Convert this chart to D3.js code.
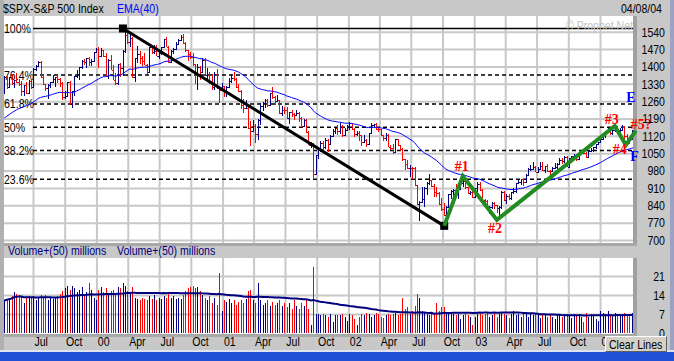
<!DOCTYPE html>
<html><head><meta charset="utf-8">
<script src="https://cdn.jsdelivr.net/npm/d3@7"></script>
<style>
html,body{margin:0;padding:0;background:#c8c8c8;overflow:hidden;}
svg{display:block;}
</style></head><body>
<svg id="c" width="674" height="361"></svg>
<script>
// ---------------- DATA ----------------
const firstWeek = "1999-04-09", lastWeek = "2004-04-09";
const firstOpen = 1293;
const closes = [
 1357,1319,1357,1335,1346,1337,1330,1302,1327,1293,1343,1315,1391,1403,1418,1356,1328,1313,1327,1336,1348,1357,1351,1335,1277,1282,1336,1247,1301,1362,1370,1397,1422,1416,1433,1417,1421,1458,1469,
 1441,1465,1441,1360,1424,1387,1346,1333,1409,1395,1464,1527,1499,1516,1357,1434,1452,1433,1421,1407,1378,1477,1457,1464,1441,1455,1478,1509,1480,1419,1462,1471,1491,1507,1520,1494,1465,1449,1436,1408,1374,1396,1379,1427,1365,1367,1341,1315,1369,1312,1305,1320,
 1298,1318,1342,1354,1349,1315,1302,1246,1234,1234,1150,1139,1160,1128,1183,1242,1253,1266,1245,1291,1277,1260,1264,1214,1225,1224,1190,1215,1210,1205,1214,1191,1161,1185,1134,1085,1092,966,1041,1071,1092,1074,1105,1087,1120,1139,1150,1139,1158,1124,1144,1161,
 1172,1146,1128,1133,1122,1096,1104,1089,1131,1164,1166,1148,1147,1122,1111,1125,1076,1073,1054,1106,1083,1067,1027,1007,990,990,989,921,847,852,865,908,928,940,916,893,889,846,827,800,835,884,897,900,894,910,930,936,912,889,895,875,
 909,927,901,861,856,829,834,851,841,829,833,895,863,878,868,893,898,930,933,945,933,964,987,988,995,976,985,998,981,998,980,977,990,993,1008,1021,1018,1036,996,1029,1038,1039,1028,1050,1053,1050,1035,1058,1061,1074,1088,1095,
 1108,1122,1139,1141,1131,1142,1146,1144,1145,1156,1120,1110,1109,1141,1139];
const highs = [
 1362,1362,1358,1368,1347,1375,1350,1340,1327,1336,1345,1350,1392,1404,1421,1420,1367,1330,1328,1337,1365,1358,1360,1355,1338,1300,1337,1340,1302,1363,1387,1397,1425,1428,1435,1438,1430,1459,1474,
 1478,1473,1467,1455,1430,1445,1407,1375,1410,1415,1467,1553,1535,1527,1520,1435,1482,1463,1440,1455,1410,1478,1480,1488,1488,1463,1479,1510,1517,1483,1466,1475,1499,1512,1525,1530,1497,1466,1460,1454,1410,1408,1402,1432,1434,1395,1376,1370,1376,1390,1316,1335,
 1321,1320,1355,1370,1376,1355,1330,1304,1268,1264,1241,1181,1183,1169,1186,1253,1255,1268,1270,1292,1316,1280,1286,1266,1240,1238,1237,1218,1225,1212,1226,1215,1196,1186,1186,1138,1096,1092,1041,1075,1100,1100,1110,1106,1124,1148,1152,1163,1173,1162,1150,1165,
 1176,1173,1150,1140,1139,1124,1122,1108,1132,1173,1168,1170,1153,1149,1124,1130,1126,1085,1089,1107,1107,1085,1070,1028,1022,1004,993,994,923,856,912,913,935,965,942,925,912,893,870,851,836,886,900,905,925,911,937,943,954,913,898,896,
 911,932,935,906,864,863,838,852,853,842,837,896,896,885,887,894,911,931,942,947,947,965,989,1002,1015,1000,994,1015,1015,1000,1006,983,993,1011,1010,1030,1032,1040,1039,1030,1040,1048,1043,1054,1061,1063,1053,1059,1071,1075,1089,1096,
 1112,1131,1140,1150,1155,1143,1159,1158,1152,1163,1159,1126,1115,1145,1151];
const lows = [
 1290,1307,1312,1326,1312,1333,1320,1281,1281,1290,1291,1310,1315,1383,1398,1355,1325,1300,1268,1312,1333,1318,1332,1315,1263,1268,1280,1245,1233,1280,1354,1347,1390,1405,1395,1400,1400,1416,1454,
 1392,1438,1438,1356,1350,1386,1345,1325,1325,1356,1360,1453,1490,1480,1355,1339,1415,1410,1400,1404,1370,1375,1450,1450,1440,1430,1447,1475,1478,1415,1416,1450,1465,1490,1502,1490,1460,1420,1430,1400,1330,1305,1345,1378,1362,1346,1330,1306,1305,1310,1254,1300,
 1275,1275,1312,1335,1340,1312,1298,1228,1214,1228,1148,1081,1135,1091,1104,1165,1221,1232,1235,1241,1270,1245,1256,1209,1200,1210,1188,1168,1194,1182,1201,1175,1158,1155,1130,1084,1073,944,962,1026,1055,1064,1067,1054,1084,1115,1128,1125,1126,1114,1122,1140,
 1145,1145,1115,1118,1100,1081,1092,1074,1086,1130,1150,1145,1135,1121,1099,1101,1075,1064,1048,1053,1080,1060,1020,981,985,953,947,917,840,776,848,833,880,920,912,872,875,843,817,798,768,830,865,872,882,866,900,915,905,885,880,870,
 869,895,898,860,838,825,806,823,826,807,789,827,858,847,860,863,887,888,924,923,918,931,960,979,987,974,974,985,978,971,974,960,973,988,985,1006,1007,1010,995,990,1026,1030,1018,1027,1046,1046,1031,1034,1056,1056,1068,1086,
 1095,1107,1113,1134,1122,1123,1137,1139,1136,1140,1106,1101,1087,1106,1133];
const volumes = [
 12,12.5,13,13.5,15,14.5,14,13.5,11,13,13.5,13, 13.5,12,13,14,13, 14,12,13,12.5, 13,13.5,14.5,15.5, 16.5,17.5,16,17.5,16.5, 15,16,17,14, 15,18.5,16,13,12,
 16,17,15,16.5, 14.5,15.5,16,14, 17,16.5,18.5,17.5,15.5, 15,17,13,12.5, 12,13,12.5,12, 13.5,12.5,14,12,13, 12.5,13.5,13,14.5, 13,13.5,12.5,13, 12.5,14,15.5,16.5,17, 17.5,16.5,17,15.5, 14,13,12,13.5, 11,13,10.5,22,8,
 12,11.5,12.5,11, 12,10.5,11.5,12, 11,12.5,15.5,16,12, 11,18.5,12,10.5, 11,12,10,11.5, 10.5,11,12,10,11, 9.5,11,9,12, 10,9,11,10,12, 9,3,24.5,7, 7,6.5,7,6.5, 6,7,4,6.5,6.5, 6.5,7,6,4.5,
 7,6.5,5,3, 6,7,6.5,7.5, 7,6,6.5,7.5,7, 6,5.5,6.5,7, 6.5,7,7.5,6.5,7, 13,9,9.5,7, 8,10,14.5,13, 8,7.5,7,6.5,7, 7,11,8,9.5, 9.5,7.5,7,7.5, 7,6.5,7,5,6.5, 7,6.5,6,3,
 6,7,7,6.5,7, 7.5,6,6.5,7, 6,7,7.5,7, 6.5,5.5,7,8, 6.5,7,6,7,7.5, 6,7,6.5,7, 7.5,5.5,6.5,7, 6,7,6,5,6.5, 7,6,7,7, 6.5,5.5,7,6.5,7, 6,4,7.5,6, 7,6.5,5,4.5,
 8,7.5,7,8,7,6.5,7.5,7,6.5,7,7.5,7,7,7.5,5.5];
const emaPeriod = 40, emaSeed = 1184;
const volMaPeriod = 50;
const priceTicks = [700,770,840,910,980,1050,1120,1190,1260,1330,1400,1470,1540];
const volTicks = [0,7,14,21];
const tickLabels = ["Jul","Oct","00","Apr","Jul","Oct","01","Apr","Jul","Oct","02","Apr","Jul","Oct","03","Apr","Jul","Oct","04"];
const fibPcts = [1,0.764,0.618,0.5,0.382,0.236];
const fibLabels = ["100%","76.4%","61.8%","50%","38.2%","23.6%"];
const fibHigh = 1553, fibLow = 757;
const trendPts = [["2000-03-18",1553],["2002-10-06",757]];
const wavePts = [["2002-10-06",757],["2002-11-29",958],["2003-03-08",781],["2004-02-13",1160],["2004-03-16",1083],["2004-04-14",1141]];
const waveLabels = ["#1","#2","#3","#4","#5?"];
const channelLabels = [["E","2004-03-17",1256],["F","2004-03-29",1018]];

// ---------------- CHART ----------------
const FONT = "'Liberation Sans', Arial, sans-serif";
const SERIF = "'Liberation Serif', 'Times New Roman', serif";
const SX = 0.88;
const parse = d3.timeParse("%Y-%m-%d");
const svg = d3.select("#c");
const P = {x0:4, x1:633, y0:16, y1:243};
const V = {x0:4, x1:633, y0:258, y1:334};

const weeks = d3.timeFriday.range(parse(firstWeek), d3.timeDay.offset(parse(lastWeek),1)).slice(0, closes.length);
const opens = closes.map((c,i)=> i===0 ? firstOpen : closes[i-1]);
const alpha = 2/(emaPeriod+1);
let e = emaSeed;
const ema = closes.map(c => (e = e + alpha*(c-e)));
const volMa = volumes.map((v,i)=> d3.mean(volumes.slice(Math.max(0,i-volMaPeriod+1), i+1)));

const x = d3.scaleTime().domain([parse("1999-07-01"), parse("2004-01-01")]).range([33,600]);
const y = d3.scaleLinear().domain([700,1540]).range([240,31.7]);
const yv = d3.scaleLinear().domain([0,21]).range([333,276.1]);
const tickDates = d3.timeMonth.every(3).range(parse("1999-07-01"), parse("2004-01-02"));

function txt(g, tx, ty, s, o={}) {
  return g.append("text").attr("transform",`translate(${tx},${ty}) scale(${o.sx||SX},1)`)
    .attr("font-family", o.family||FONT).attr("font-size", o.size||12)
    .attr("font-weight", o.weight||"normal")
    .attr("text-anchor", o.anchor||"start").attr("fill", o.fill||"#000").text(s);
}

// backgrounds
svg.append("rect").attr("width",674).attr("height",361).attr("fill","#c8c8c8");
svg.append("rect").attr("x",0).attr("y",0).attr("width",4).attr("height",351).attr("fill","#b0b0b0");
svg.append("rect").attr("x",670).attr("y",0).attr("width",4).attr("height",351).attr("fill","#9ca2c2");
svg.append("rect").attr("x",P.x0).attr("y",P.y0).attr("width",P.x1-P.x0).attr("height",P.y1-P.y0).attr("fill","#fff");
svg.append("rect").attr("x",V.x0).attr("y",V.y0).attr("width",V.x1-V.x0).attr("height",V.y1-V.y0).attr("fill","#fff");
svg.append("rect").attr("x",P.x1).attr("y",P.y0).attr("width",4).attr("height",P.y1-P.y0).attr("fill","#a0a0a0");
svg.append("rect").attr("x",V.x1).attr("y",V.y0).attr("width",4).attr("height",V.y1-V.y0).attr("fill","#a0a0a0");
svg.append("rect").attr("x",4).attr("y",P.y1).attr("width",633).attr("height",3).attr("fill","#a8a8a8");
svg.append("rect").attr("x",4).attr("y",V.y1).attr("width",633).attr("height",3).attr("fill","#a8a8a8");
svg.append("rect").attr("x",0).attr("y",350).attr("width",674).attr("height",2).attr("fill","#dfe3ee");
svg.append("rect").attr("x",0).attr("y",352).attr("width",674).attr("height",9).attr("fill","#1f50d6");

// clip
const defs = svg.append("defs");
defs.append("clipPath").attr("id","cp").append("rect").attr("x",P.x0).attr("y",P.y0).attr("width",P.x1-P.x0).attr("height",P.y1-P.y0);
defs.append("clipPath").attr("id","cv").append("rect").attr("x",V.x0).attr("y",V.y0).attr("width",V.x1-V.x0).attr("height",V.y1-V.y0);

// grids
const gridStyle = g => { g.select(".domain").remove(); g.selectAll("line").attr("stroke","#c8c8c8").attr("stroke-width",2); g.selectAll("text").remove(); };
const gp = svg.append("g").attr("clip-path","url(#cp)");
gp.append("g").attr("transform",`translate(0,${P.y0})`).call(d3.axisBottom(x).tickValues(tickDates).tickSize(P.y1-P.y0).tickFormat("")).call(gridStyle);
gp.append("g").attr("transform",`translate(${P.x0},0)`).call(d3.axisRight(y).tickValues(priceTicks).tickSize(P.x1-P.x0).tickFormat("")).call(gridStyle);
const gv = svg.append("g").attr("clip-path","url(#cv)");
gv.append("g").attr("transform",`translate(0,${V.y0})`).call(d3.axisBottom(x).tickValues(tickDates).tickSize(V.y1-V.y0).tickFormat("")).call(gridStyle);
gv.append("g").attr("transform",`translate(${V.x0},0)`).call(d3.axisRight(yv).tickValues(volTicks.slice(1)).tickSize(V.x1-V.x0).tickFormat("")).call(gridStyle);

// watermark
txt(svg, 633, 30, "\u00A9 Prophet.Net", {anchor:"end", fill:"#c4c4c4"});

// fib levels
const fibG = gp.append("g");
fibPcts.forEach((p,i) => {
  const v = fibLow + p*(fibHigh-fibLow);
  const yy = y(v);
  txt(fibG, 4, yy+4.5, fibLabels[i]);
  fibG.append("line").attr("x1",33).attr("x2",P.x1).attr("y1",yy).attr("y2",yy)
    .attr("stroke","#000").attr("stroke-width",1.5).attr("stroke-dasharray", i===0 ? null : "4,3");
});

// price bars
const UP = "#000080", DN = "#ff0000";
const bars = gp.append("g").attr("shape-rendering","crispEdges");
weeks.forEach((d,i) => {
  const xx = Math.round(x(d)) + 0.5;
  const col = closes[i] >= opens[i] ? UP : DN;
  bars.append("line").attr("x1",xx).attr("x2",xx).attr("y1",y(highs[i])).attr("y2",y(lows[i])).attr("stroke",col);
  bars.append("line").attr("x1",xx-2).attr("x2",xx).attr("y1",Math.round(y(opens[i]))+0.5).attr("y2",Math.round(y(opens[i]))+0.5).attr("stroke",col);
  bars.append("line").attr("x1",xx).attr("x2",xx+2).attr("y1",Math.round(y(closes[i]))+0.5).attr("y2",Math.round(y(closes[i]))+0.5).attr("stroke",col);
});

// EMA
gp.append("path").datum(ema).attr("fill","none").attr("stroke","#0000ff").attr("stroke-width",1)
  .attr("d", d3.line().x((d,i)=>x(weeks[i])).y(d=>y(d)));

// trendline
const tp = trendPts.map(([d,v])=>[x(parse(d)), y(v)]);
gp.append("path").attr("d", d3.line()(tp)).attr("stroke","#000").attr("stroke-width",3).attr("fill","none");
tp.forEach(([a,b]) => gp.append("rect").attr("x",a-4).attr("y",b-4).attr("width",8).attr("height",8).attr("fill","#000"));

// wave line
const wp = wavePts.map(([d,v])=>[x(parse(d)), y(v)]);
svg.append("path").attr("d", d3.line()(wp)).attr("stroke","#228b22").attr("stroke-width",4).attr("fill","none").attr("stroke-linejoin","miter");
const labelOffsets = [[-8,-5],[-9,13],[-10,-2],[-13,9],[-5,-2]];
waveLabels.forEach((s,i) => {
  const [a,b] = wp[i+1];
  txt(svg, a+labelOffsets[i][0], b+labelOffsets[i][1], s, {family:SERIF, size:14, weight:"bold", fill:"#ff0000", sx:1});
});
channelLabels.forEach(([s,d,v]) => txt(svg, x(parse(d)), y(v), s, {family:SERIF, size:14, weight:"bold", fill:"#0000ff", sx:1}));

// volume bars
const vb = gv.append("g").attr("shape-rendering","crispEdges");
weeks.forEach((d,i) => {
  const xx = Math.round(x(d)) + 0.5;
  vb.append("line").attr("x1",xx).attr("x2",xx).attr("y1",yv(0)).attr("y2",yv(volumes[i]))
    .attr("stroke", closes[i] >= opens[i] ? UP : DN);
});
gv.append("path").datum(volMa).attr("fill","none").attr("stroke","#000080").attr("stroke-width",2)
  .attr("d", d3.line().x((d,i)=>x(weeks[i])).y(d=>yv(d)));

// axes
function styleAxisText(g) {
  g.select(".domain").remove();
  g.selectAll("line").remove();
  g.selectAll("text").attr("font-family",FONT).attr("font-size",12).attr("fill","#000")
    .attr("transform",`scale(${SX},1)`);
}
const ay = svg.append("g").attr("transform","translate(665,0)").call(d3.axisLeft(y).tickValues(priceTicks).tickFormat(d3.format("d")).tickSize(0).tickPadding(0));
styleAxisText(ay); ay.selectAll("text").attr("dy","0.36em");
const av = svg.append("g").attr("transform","translate(665,0)").call(d3.axisLeft(yv).tickValues(volTicks).tickFormat(d3.format("d")).tickSize(0).tickPadding(0));
styleAxisText(av); av.selectAll("text").attr("dy","0.36em");
const ax = svg.append("g").attr("transform","translate(0,346)").call(d3.axisBottom(x).tickValues(tickDates).tickFormat((d,i)=>tickLabels[i]).tickSize(0).tickPadding(0));
styleAxisText(ax); ax.selectAll("text").attr("y",0).attr("dy",0).attr("x",1).attr("text-anchor","start");

// header texts
txt(svg, 3, 12.5, "$SPX-S&P 500 Index");
txt(svg, 117, 12.5, "EMA(40)", {fill:"#0000ff"});
txt(svg, 662, 12.5, "04/08/04", {anchor:"end"});
txt(svg, 8, 254.5, "Volume+(50) millions", {fill:"#000080"});
txt(svg, 117, 254.5, "Volume+(50) millions", {fill:"#000080"});

// Clear Lines button
const btn = svg.append("g");
btn.append("rect").attr("x",605).attr("y",336).attr("width",62).attr("height",16).attr("fill","#d4d0c8");
btn.append("path").attr("d","M605.5,351.5 V336.5 H666.5").attr("stroke","#fff").attr("fill","none");
btn.append("path").attr("d","M605.5,351.5 H666.5 V336.5").attr("stroke","#606060").attr("fill","none");
txt(btn, 609, 348.5, "Clear Lines");
</script>
</body></html>
